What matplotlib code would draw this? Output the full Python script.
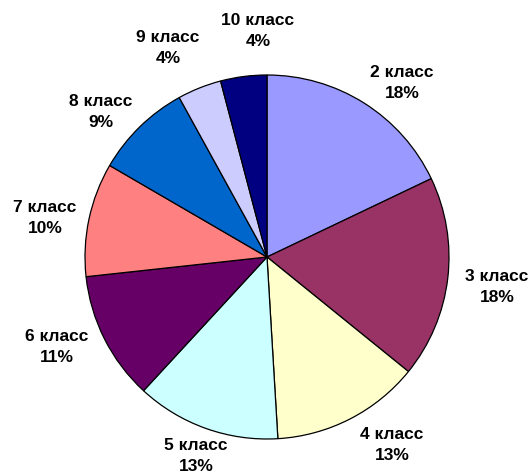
import matplotlib
matplotlib.use('Agg')
import matplotlib.pyplot as plt

# доли классов (оценены по углам секторов)
classes = ['2 класс', '3 класс', '4 класс', '5 класс', '6 класс',
           '7 класс', '8 класс', '9 класс', '10 класс']
values = [17.9, 17.9, 13.2, 12.8, 11.4, 10.1, 8.6, 3.9, 4.1]
colors = ['#9999FF', '#993366', '#FFFFCC', '#CCFFFF', '#660066',
          '#FF8080', '#0066CC', '#CCCCFF', '#000080']

# положение подписей (в пикселях картинки, центр блока текста)
label_px = [(402, 83), (497, 287), (392, 445), (196, 456), (57, 347),
            (45, 218), (101, 112), (168, 48), (258, 31)]

W, H = 528, 475
cx, cy, R = 267, 257, 182

total = sum(values)
labels = ['%s\n%d%%' % (c, round(v / total * 100)) for c, v in zip(classes, values)]

fig = plt.figure(figsize=(W / 100, H / 100), dpi=100)
ax = fig.add_axes([(cx - R) / W, (H - cy - R) / H, 2 * R / W, 2 * R / H])

wedges, texts = ax.pie(values, labels=labels, colors=colors, startangle=90,
                       counterclock=False, labeldistance=1.24,
                       wedgeprops={'edgecolor': 'black', 'linewidth': 0.9},
                       textprops={'fontsize': 12.5, 'fontweight': 'bold',
                                  'family': ['Liberation Sans', 'DejaVu Sans']})
for t, (px, py) in zip(texts, label_px):
    t.set_position(((px - cx) / R, (cy - py) / R))
    t.set_horizontalalignment('center')
    t.set_verticalalignment('center')
    t.set_multialignment('center')
    t.set_linespacing(1.55)

ax.set_xlim(-1, 1)
ax.set_ylim(-1, 1)
ax.set_aspect('equal')

plt.savefig('out.png', dpi=100)
plt.close(fig)
